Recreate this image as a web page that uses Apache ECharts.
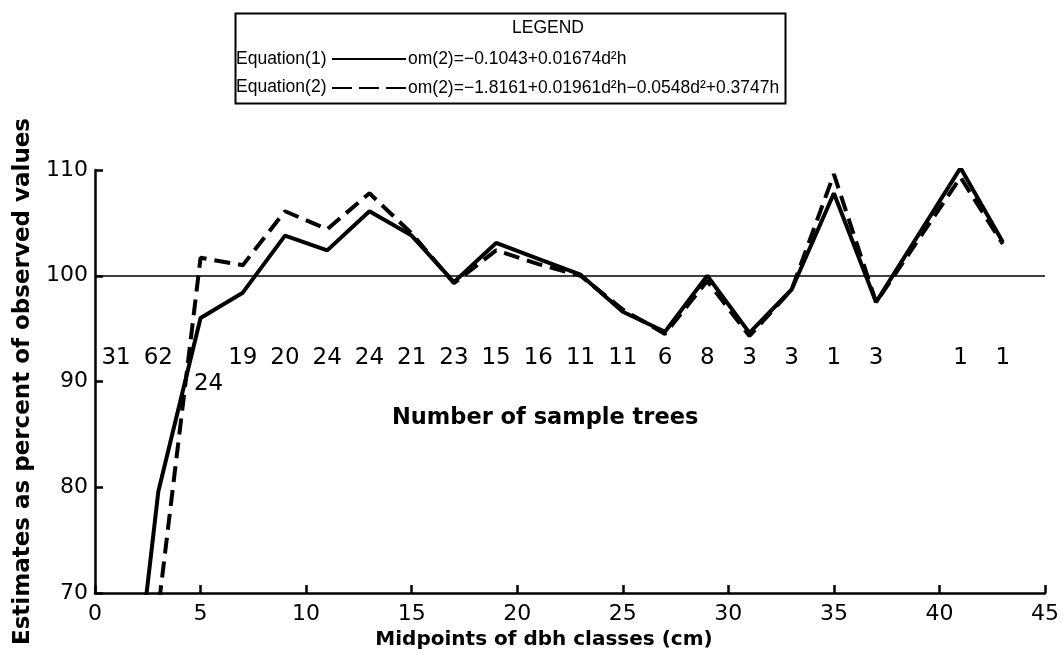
<!DOCTYPE html>
<html>
<head>
<meta charset="utf-8">
<script src="https://cdn.jsdelivr.net/npm/echarts@6/dist/echarts.min.js"></script>
<style>
html,body{margin:0;padding:0;background:#fff;}
#chart{width:1063px;height:655px;}
</style>
</head>
<body>
<div id="chart"></div>
<script>
// Midpoints of dbh classes (cm)
const dbhMidpoints = [1, 3, 5, 7, 9, 11, 13, 15, 17, 19, 21, 23, 25, 27, 29, 31, 33, 35, 37, 41, 43];
// Estimates as percent of observed values
const equation1 = [45, 79.6, 96.0, 98.4, 103.8, 102.4, 106.1, 103.8, 99.4, 103.1, 101.6, 100.1, 96.6, 94.7, 100.0, 94.6, 98.7, 107.8, 97.5, 110.2, 103.2];
const equation2 = [40, 68.5, 101.7, 101.0, 106.1, 104.4, 107.8, 104.0, 99.3, 102.4, 101.1, 100.0, 96.8, 94.5, 99.5, 94.3, 98.7, 109.6, 97.5, 109.3, 103.0];
// Number of sample trees per class
const sampleTrees = [31, 62, 24, 19, 20, 24, 24, 21, 23, 15, 16, 11, 11, 6, 8, 3, 3, 1, 3, 1, 1];
const seriesNames = ['Equation(1)', 'Equation(2)'];
const formulas = ['om(2)=−0.1043+0.01674d²h', 'om(2)=−1.8161+0.01961d²h−0.0548d²+0.3747h'];
const xTicks = [0, 5, 10, 15, 20, 25, 30, 35, 40, 45];
const yTicks = [70, 80, 90, 100, 110];
const referenceValue = 100;

const COUNT_LABEL_LEVEL = 92.2;
const FONT = '"DejaVu Sans", sans-serif';
const LFONT = '"Liberation Sans", Arial, sans-serif';

const chart = echarts.init(document.getElementById('chart'), null, {renderer: 'canvas'});

const toPairs = (ys) => dbhMidpoints.map((x, i) => [x, ys[i]]);
const countData = dbhMidpoints.map((x, i) => {
  const item = {value: [x, COUNT_LABEL_LEVEL, sampleTrees[i]]};
  if (x === 5) item.label = {offset: [8, 26]};
  return item;
});

const option = {
  backgroundColor: '#ffffff',
  animation: false,
  grid: {left: 95, right: 18, top: 170, bottom: 62, containLabel: false, outerBoundsMode: 'none'},
  xAxis: {
    type: 'value', min: xTicks[0], max: xTicks[xTicks.length - 1], interval: 5,
    name: 'Midpoints of dbh classes (cm)', nameLocation: 'middle', nameGap: 37,
    nameTextStyle: {fontFamily: FONT, fontSize: 20, fontWeight: 'bold', color: '#000', padding: [0, 52, 0, 0]},
    axisLine: {lineStyle: {color: '#000', width: 2.5}},
    axisTick: {inside: true, length: 8, lineStyle: {color: '#000', width: 2.5}},
    axisLabel: {fontFamily: FONT, fontSize: 22, color: '#000', margin: 10},
    splitLine: {show: false}
  },
  yAxis: {
    type: 'value', min: yTicks[0], max: yTicks[yTicks.length - 1], interval: 10,
    name: 'Estimates as percent of observed values', nameLocation: 'middle', nameGap: 60,
    nameTextStyle: {fontFamily: FONT, fontSize: 23, fontWeight: 'bold', color: '#000'},
    axisLine: {lineStyle: {color: '#000', width: 2.5}},
    axisTick: {inside: true, length: 8, lineStyle: {color: '#000', width: 2.5}},
    axisLabel: {fontFamily: FONT, fontSize: 22, color: '#000', margin: 7},
    splitLine: {show: false}
  },
  legend: {
    orient: 'vertical', left: 326, top: 45, itemWidth: 74, itemHeight: 14, itemGap: 11,
    data: [
      {name: seriesNames[0]},
      {name: seriesNames[1], lineStyle: {type: [20, 7]}}
    ],
    formatter: (name) => formulas[seriesNames.indexOf(name)],
    itemStyle: {opacity: 0},
    textStyle: {fontFamily: LFONT, fontSize: 17.5, color: '#000', padding: [0, 0, 0, -3]},
    selectedMode: false
  },
  graphic: [
    {type: 'rect', left: 233, top: 11, shape: {width: 550, height: 90}, style: {fill: 'none', stroke: '#000', lineWidth: 2}},
    {type: 'text', left: 512, top: 19, style: {text: 'LEGEND', font: '17.5px ' + LFONT, fill: '#000'}},
    {type: 'text', left: 236, top: 50, style: {text: seriesNames[0], font: '17.5px ' + LFONT, fill: '#000'}},
    {type: 'text', left: 236, top: 78, style: {text: seriesNames[1], font: '17.5px ' + LFONT, fill: '#000'}},
    {type: 'text', left: 392, top: 407, style: {text: 'Number of sample trees', font: 'bold 22.5px ' + FONT, fill: '#000'}}
  ],
  series: [
    {
      name: seriesNames[0], type: 'line', data: toPairs(equation1), symbol: 'none', showSymbol: false,
      clip: true, lineStyle: {color: '#000', width: 4, type: 'solid'}, itemStyle: {color: '#000'},
      markLine: {
        silent: true, symbol: 'none', label: {show: false},
        lineStyle: {color: '#000', width: 1.5, type: 'solid'},
        data: [{yAxis: referenceValue}]
      }
    },
    {
      name: seriesNames[1], type: 'line', data: toPairs(equation2), symbol: 'none', showSymbol: false,
      clip: true, lineStyle: {color: '#000', width: 4, type: [16, 8]}, itemStyle: {color: '#000'}
    },
    {
      name: 'Number of sample trees', type: 'scatter', data: countData, symbolSize: 0,
      silent: true, z: 5, itemStyle: {opacity: 1, color: '#000'},
      label: {show: true, position: 'inside', formatter: (p) => String(p.value[2]),
        fontFamily: FONT, fontSize: 23, color: '#000', textBorderWidth: 0}
    }
  ]
};
chart.setOption(option);
</script>
</body>
</html>
